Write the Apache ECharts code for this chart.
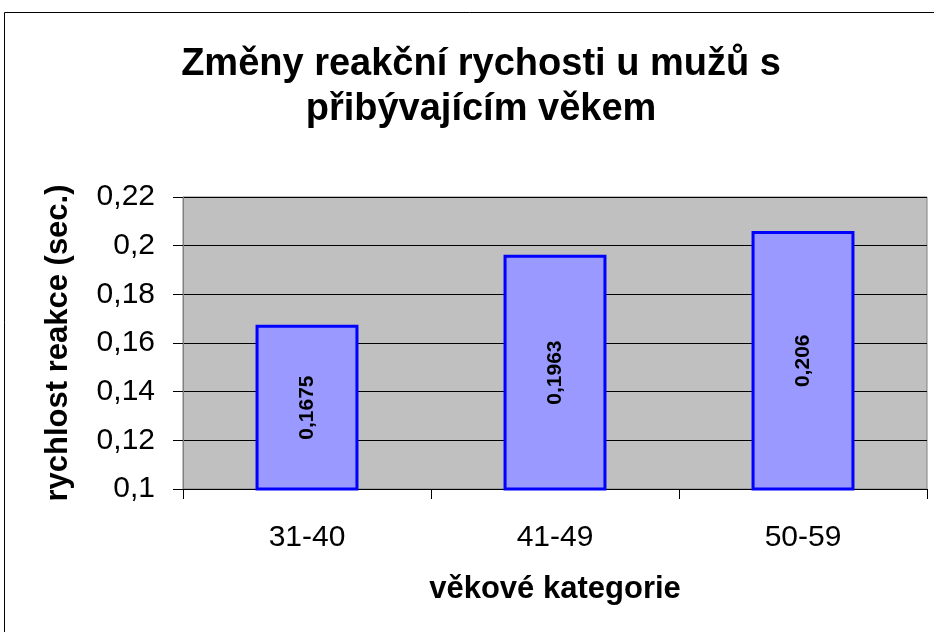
<!DOCTYPE html>
<html>
<head>
<meta charset="utf-8">
<script src="https://cdn.jsdelivr.net/npm/echarts@6/dist/echarts.min.js"></script>
<style>
  html, body { margin: 0; padding: 0; background: #fff; }
  #chart { width: 934px; height: 632px; }
</style>
</head>
<body>
<div id="chart"></div>
<script>
// data
var categories = ['31-40', '41-49', '50-59'];
var values = [0.1675, 0.1963, 0.206];
var yTicks = [0.1, 0.12, 0.14, 0.16, 0.18, 0.2, 0.22];

// decimal comma like the original
function czNum(v) {
    return String(Math.round(v * 10000) / 10000).replace('.', ',');
}

var myChart = echarts.init(document.getElementById('chart'));
var font = '"Liberation Sans", Arial, sans-serif';

var option = {
    backgroundColor: '#ffffff',
    animation: false,
    textStyle: { fontFamily: font },
    title: {
        text: 'Změny reakční rychosti u mužů s\npřibývajícím věkem',
        left: 476,
        top: 37,
        textAlign: 'center',
        textStyle: {
            fontFamily: font,
            fontSize: 38,
            fontWeight: 'bold',
            color: '#000',
            lineHeight: 45
        }
    },
    graphic: [{
        type: 'rect',
        shape: { x: 4.5, y: 12.5, width: 1000, height: 1000 },
        style: { fill: 'none', stroke: '#000', lineWidth: 1 },
        silent: true
    }],
    grid: {
        left: 183,
        right: 7,
        top: 197,
        bottom: 143,
        show: true,
        backgroundColor: '#C0C0C0',
        borderColor: '#808080',
        borderWidth: 1
    },
    xAxis: {
        type: 'category',
        data: categories,
        name: 'věkové kategorie',
        nameLocation: 'middle',
        nameGap: 85,
        nameTextStyle: { fontFamily: font, fontSize: 31, fontWeight: 'bold', color: '#000' },
        axisLine: { lineStyle: { color: '#000', width: 1 } },
        axisTick: { show: true, length: 10, lineStyle: { color: '#000' } },
        axisLabel: { margin: 34, fontFamily: font, fontSize: 30, color: '#000' },
        splitLine: { show: false }
    },
    yAxis: {
        type: 'value',
        min: yTicks[0],
        max: yTicks[yTicks.length - 1],
        interval: 0.02,
        name: 'rychlost reakce (sec.)',
        nameLocation: 'middle',
        nameGap: 109,
        nameTextStyle: { fontFamily: font, fontSize: 31, fontWeight: 'bold', color: '#000' },
        axisLine: { show: true, lineStyle: { color: '#808080', width: 1 } },
        axisTick: { show: true, length: 10, lineStyle: { color: '#000' } },
        axisLabel: {
            margin: 28,
            fontFamily: font,
            fontSize: 30,
            color: '#000',
            formatter: function (v) { return czNum(v); }
        },
        splitLine: { show: true, lineStyle: { color: '#000', width: 1 } }
    },
    series: [{
        name: 'rychlost reakce',
        type: 'bar',
        data: values,
        barWidth: '41.5%',
        itemStyle: {
            color: '#9999FF',
            borderColor: '#0000FF',
            borderWidth: 3
        },
        label: {
            show: true,
            position: 'inside',
            rotate: 90,
            fontFamily: font,
            fontSize: 21,
            fontWeight: 'bold',
            color: '#000',
            formatter: function (p) { return czNum(p.value); }
        }
    }]
};

myChart.setOption(option);
</script>
</body>
</html>
